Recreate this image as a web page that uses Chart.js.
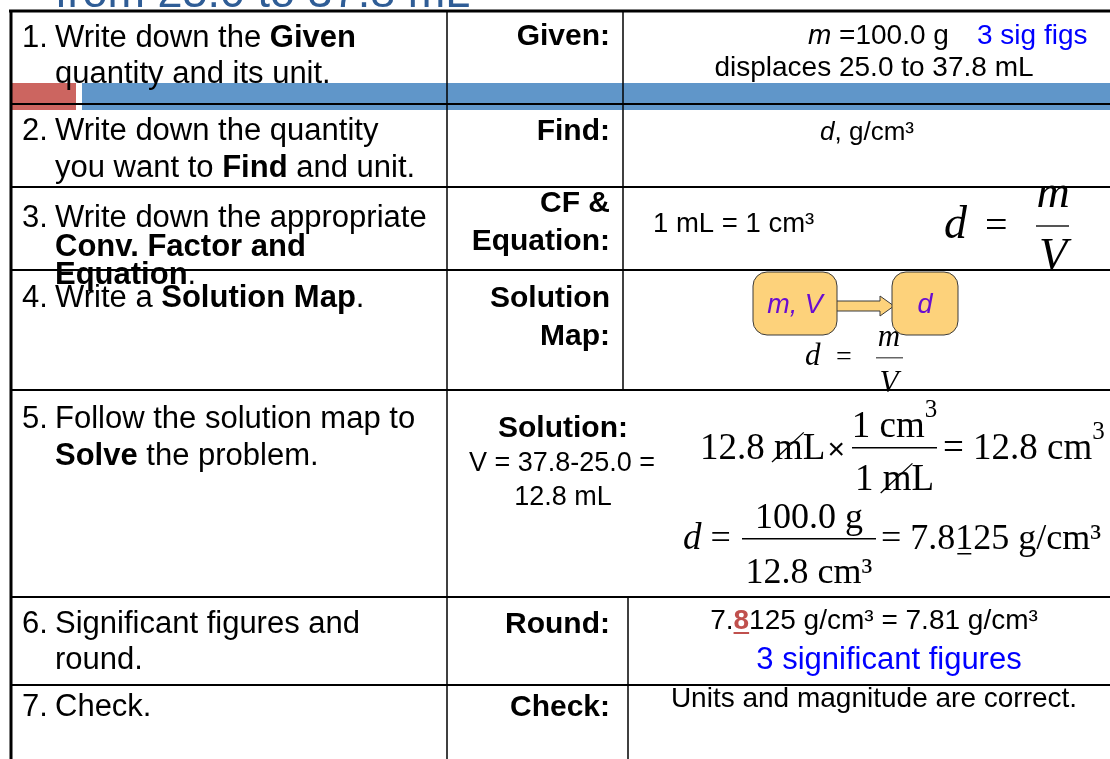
<!DOCTYPE html>
<html>
<head>
<meta charset="utf-8">
<script src="https://cdn.jsdelivr.net/npm/chart.js@4/dist/chart.umd.min.js"></script>
<style>
  html, body { margin: 0; padding: 0; background: #fff; }
  #wrap { width: 1110px; height: 759px; }
</style>
</head>
<body>
<div id="wrap"><canvas id="slide" width="1110" height="759"></canvas></div>
<script>
// content of the slide
const title = 'from 25.0 to 37.8 mL';
const steps = [
  ['1. Write down the **Given**', 'quantity and its unit.'],
  ['2. Write down the quantity', 'you want to **Find** and unit.'],
  ['3. Write down the appropriate', '**Conv. Factor and**', '**Equation**.'],
  ['4. Write a **Solution Map**.'],
  ['5. Follow the solution map to', '**Solve** the problem.'],
  ['6. Significant figures and', 'round.'],
  ['7. Check.'],
];
const fieldLabels = [
  ['Given:'], ['Find:'], ['CF &', 'Equation:'], ['Solution', 'Map:'],
  ['Solution:'], ['Round:'], ['Check:'],
];
// measured quantities
const massG = [100.0];
const volumeML = [25.0, 37.8];
const volumeDiff = [12.8];
const density = [7.8125, 7.81];
const sigFigs = [3];
const mapNodes = ['m, V', 'd'];
const checkText = 'Units and magnitude are correct.';

const SANS = '"Liberation Sans", Arial, sans-serif';
const SERIF = '"Liberation Serif", "Times New Roman", serif';

// layout of the table (pixel units of the hidden scales)
const rowLines = [104, 187, 270, 390, 597, 685];
const stepBaselines = [[47, 83], [140, 177], [227, 256, 284], [307], [428, 465], [633, 669], [716]];
const labelBaselines = [[45], [140], [212, 250], [307, 345], [437], [633], [716]];

function parseRuns(s) {
  return s.split(/(\*\*.+?\*\*|_.+?_)/).filter(Boolean).map(t => {
    if (t.startsWith('**')) return { t: t.slice(2, -2), b: true };
    if (t.startsWith('_') && t.length > 2) return { t: t.slice(1, -1), i: true };
    return { t };
  });
}

function fontOf(o, r) {
  const b = (o.bold || (r && r.b)) ? 'bold ' : '';
  const i = (o.italic || (r && r.i)) ? 'italic ' : '';
  return i + b + o.size + 'px ' + (o.family || SANS);
}

function drawRich(ctx, s, x, y, o) {
  const runs = parseRuns(s);
  let total = 0;
  runs.forEach(r => { ctx.font = fontOf(o, r); r.w = ctx.measureText(r.t).width; total += r.w; });
  let cx = x;
  if (o.align === 'center') cx = x - total / 2;
  if (o.align === 'right') cx = x - total;
  ctx.textAlign = 'left';
  ctx.textBaseline = 'alphabetic';
  runs.forEach(r => {
    ctx.font = fontOf(o, r);
    ctx.fillStyle = (r.b && o.boldColor) || o.color || '#000';
    ctx.fillText(r.t, cx, y);
    if (r.b && o.boldUnderline) {
      ctx.fillRect(cx, y + 3, r.w, 2);
    }
    cx += r.w;
  });
  return cx;
}

// draw a row of pieces one after another (for the typeset formulas)
function drawSeq(ctx, x, y, parts) {
  let cx = x;
  parts.forEach(p => {
    const fam = p.family || SERIF;
    ctx.font = (p.italic ? 'italic ' : '') + p.size + 'px ' + fam;
    ctx.fillStyle = '#000';
    ctx.textAlign = 'left';
    ctx.textBaseline = 'alphabetic';
    const w = ctx.measureText(p.t).width;
    cx += p.gap || 0;
    ctx.fillText(p.t, cx, y + (p.dy || 0));
    if (p.strike) {
      const mw = ctx.measureText('m').width;
      ctx.strokeStyle = '#000';
      ctx.lineWidth = 1.3;
      ctx.beginPath();
      ctx.moveTo(cx - 2, y + 3);
      ctx.lineTo(cx + mw + 1, y - p.size * 0.72);
      ctx.stroke();
    }
    if (p.under) {
      const uw = ctx.measureText(p.under[0]).width;
      const ux = cx + ctx.measureText(p.t.slice(0, p.under[1])).width;
      ctx.fillRect(ux + 2, y + 4, uw - 4, 1.5);
    }
    cx += w;
  });
  return cx;
}

function seqWidth(ctx, parts) {
  return parts.reduce((a, p) => {
    ctx.font = (p.italic ? 'italic ' : '') + p.size + 'px ' + (p.family || SERIF);
    return a + ctx.measureText(p.t).width + (p.gap || 0);
  }, 0);
}

function roundRect(ctx, x, y, w, h, r) {
  ctx.beginPath();
  ctx.moveTo(x + r, y);
  ctx.arcTo(x + w, y, x + w, y + h, r);
  ctx.arcTo(x + w, y + h, x, y + h, r);
  ctx.arcTo(x, y + h, x, y, r);
  ctx.arcTo(x, y, x + w, y, r);
  ctx.closePath();
}

const slidePlugin = {
  id: 'slideTable',
  afterDraw(chart) {
    const ctx = chart.ctx;
    const xs = chart.scales.x, ys = chart.scales.y;
    const X = v => xs.getPixelForValue(v);
    const Y = v => ys.getPixelForValue(v);
    ctx.save();

    // title, mostly hidden above the table
    ctx.font = '45px ' + SANS;
    ctx.fillStyle = '#2F5D96';
    ctx.textAlign = 'left';
    ctx.fillText(title, X(55), Y(7));

    // decorative header bar
    ctx.fillStyle = '#CC6560';
    ctx.fillRect(X(10), Y(83), X(76) - X(10), Y(110) - Y(83));
    ctx.fillStyle = '#6096C9';
    ctx.fillRect(X(82), Y(83), X(1110) - X(82), Y(110) - Y(83));

    // left column: steps
    steps.forEach((lines, i) => {
      lines.forEach((ln, j) => {
        const y = Y(stepBaselines[i][j]);
        const m = ln.match(/^(\d+\.)\s(.*)$/);
        if (m) {
          drawRich(ctx, m[1], X(22), y, { size: 31 });
          drawRich(ctx, m[2], X(55), y, { size: 31 });
        } else {
          drawRich(ctx, ln, X(55), y, { size: 31 });
        }
      });
    });

    // middle column: field labels
    fieldLabels.forEach((lines, i) => {
      lines.forEach((ln, j) => {
        const y = Y(labelBaselines[i][j]);
        if (i === 4) drawRich(ctx, ln, X(563), y, { size: 30, bold: true, align: 'center' });
        else drawRich(ctx, ln, X(610), y, { size: 30, bold: true, align: 'right' });
      });
    });

    // Given
    drawRich(ctx, '_m_ =' + massG[0].toFixed(1) + ' g', X(808), Y(44), { size: 28 });
    drawRich(ctx, sigFigs[0] + ' sig figs', X(977), Y(44), { size: 28, color: '#0000FF' });
    drawRich(ctx, 'displaces ' + volumeML[0].toFixed(1) + ' to ' + volumeML[1].toFixed(1) + ' mL',
      X(874), Y(76), { size: 28, align: 'center' });

    // Find
    drawRich(ctx, '_d_, g/cm\u00B3', X(867), Y(140), { size: 26, align: 'center' });

    // conversion factor and equation
    drawRich(ctx, '1 mL = 1 cm\u00B3', X(653), Y(232), { size: 27.5 });
    ctx.font = 'italic 46px ' + SERIF;
    ctx.fillStyle = '#000';
    ctx.fillText('d', X(944), Y(238));
    ctx.font = '40px ' + SERIF;
    ctx.fillText('=', X(985), Y(238));
    ctx.font = 'italic 46px ' + SERIF;
    ctx.textAlign = 'center';
    ctx.fillText('m', X(1053), Y(207));
    ctx.fillText('V', X(1053), Y(270));
    ctx.textAlign = 'left';
    ctx.fillStyle = '#555';
    ctx.fillRect(X(1036), Y(225), X(1069) - X(1036), 2);

    // solution map
    ctx.fillStyle = '#000';
    ctx.font = 'italic 31px ' + SERIF;
    ctx.fillText('d', X(805), Y(365));
    ctx.font = '28px ' + SERIF;
    ctx.fillText('=', X(836), Y(365));
    ctx.font = 'italic 31px ' + SERIF;
    ctx.textAlign = 'center';
    ctx.fillText('m', X(889), Y(346));
    ctx.fillText('V', X(889), Y(392));
    ctx.textAlign = 'left';
    ctx.fillStyle = '#666';
    ctx.fillRect(X(876), Y(357), X(903) - X(876), 1.5);

    // arrow between the two nodes
    ctx.beginPath();
    ctx.moveTo(X(836), Y(301));
    ctx.lineTo(X(880), Y(301));
    ctx.lineTo(X(880), Y(296));
    ctx.lineTo(X(894), Y(306));
    ctx.lineTo(X(880), Y(316));
    ctx.lineTo(X(880), Y(311));
    ctx.lineTo(X(836), Y(311));
    ctx.closePath();
    ctx.fillStyle = '#FDD27B';
    ctx.fill();
    ctx.strokeStyle = '#3a3a3a';
    ctx.lineWidth = 1;
    ctx.stroke();

    [[753, 837], [892, 958]].forEach((b, k) => {
      roundRect(ctx, X(b[0]), Y(272), X(b[1]) - X(b[0]), Y(335) - Y(272), 14);
      ctx.fillStyle = '#FDD27B';
      ctx.fill();
      ctx.strokeStyle = '#3a3a3a';
      ctx.stroke();
      drawRich(ctx, '_' + mapNodes[k] + '_', X((b[0] + b[1]) / 2), Y(313),
        { size: 27, align: 'center', color: '#6A0DD0' });
    });

    // solution: volume
    drawRich(ctx, 'V = ' + volumeML[1].toFixed(1) + '-' + volumeML[0].toFixed(1) + ' =',
      X(562), Y(471), { size: 27, align: 'center' });
    drawRich(ctx, volumeDiff[0].toFixed(1) + ' mL', X(563), Y(505), { size: 27, align: 'center' });

    // 12.8 mL x 1 cm3 / 1 mL = 12.8 cm3
    const v = volumeDiff[0].toFixed(1);
    drawSeq(ctx, X(700), Y(459), [
      { t: v + ' ', size: 37 },
      { t: 'mL', size: 37, strike: true },
      { t: '\u00D7', size: 30, family: SANS, gap: 2 },
    ]);
    const num1 = [{ t: '1 cm', size: 37 }, { t: '3', size: 25, dy: -20 }];
    const den1 = [{ t: '1 ', size: 37 }, { t: 'mL', size: 37, strike: true }];
    const fx0 = X(852), fx1 = X(937), fmid = (fx0 + fx1) / 2;
    drawSeq(ctx, fmid - seqWidth(ctx, num1) / 2, Y(437), num1);
    drawSeq(ctx, fmid - seqWidth(ctx, den1) / 2, Y(490), den1);
    ctx.fillStyle = '#000';
    ctx.fillRect(fx0, Y(447), fx1 - fx0, 1.5);
    drawSeq(ctx, X(943), Y(459), [
      { t: '= ' + v + ' cm', size: 37 },
      { t: '3', size: 25, dy: -20 },
    ]);

    // d = 100.0 g / 12.8 cm3 = 7.8125 g/cm3
    drawSeq(ctx, X(683), Y(549), [
      { t: 'd', size: 37, italic: true },
      { t: ' =', size: 36 },
    ]);
    const num2 = [{ t: massG[0].toFixed(1) + ' g', size: 36 }];
    const den2 = [{ t: v + ' cm\u00B3', size: 36 }];
    const gx0 = X(742), gx1 = X(876), gmid = (gx0 + gx1) / 2;
    drawSeq(ctx, gmid - seqWidth(ctx, num2) / 2, Y(528), num2);
    drawSeq(ctx, gmid - seqWidth(ctx, den2) / 2, Y(583), den2);
    ctx.fillStyle = '#000';
    ctx.fillRect(gx0, Y(538), gx1 - gx0, 1.5);
    drawSeq(ctx, X(881), Y(549), [
      { t: '= ' + density[0] + ' g/cm\u00B3', size: 36, under: ['1', 5] },
    ]);

    // Round
    const ds = String(density[0]);
    drawRich(ctx, ds.slice(0, 2) + '**' + ds[2] + '**' + ds.slice(3) + ' g/cm\u00B3 = ' +
      density[1].toFixed(2) + ' g/cm\u00B3', X(874), Y(629),
      { size: 28, align: 'center', boldColor: '#C0504D', boldUnderline: true });
    drawRich(ctx, sigFigs[0] + ' significant figures', X(889), Y(669),
      { size: 31, align: 'center', color: '#0000FF' });

    // Check
    drawRich(ctx, checkText, X(874), Y(707), { size: 28, align: 'center' });

    // table grid
    ctx.strokeStyle = '#000';
    const line = (x0, y0, x1, y1, w) => {
      ctx.lineWidth = w;
      ctx.beginPath();
      ctx.moveTo(X(x0), Y(y0));
      ctx.lineTo(X(x1), Y(y1));
      ctx.stroke();
    };
    rowLines.forEach(y => line(10, y, 1110, y, 2));
    line(447, 11, 447, 759, 1.5);
    line(623, 11, 623, 390, 1.5);
    line(628, 597, 628, 759, 1.5);
    line(9, 11, 1110, 11, 3);
    line(11, 10, 11, 759, 3);

    ctx.restore();
  },
};

new Chart(document.getElementById('slide').getContext('2d'), {
  type: 'scatter',
  data: { datasets: [{ data: [], pointRadius: 0 }] },
  options: {
    responsive: false,
    animation: false,
    events: [],
    layout: { padding: 0 },
    scales: {
      x: { type: 'linear', min: 0, max: 1110, display: false },
      y: { type: 'linear', min: 0, max: 759, reverse: true, display: false },
    },
    plugins: { legend: { display: false }, tooltip: { enabled: false } },
  },
  plugins: [slidePlugin],
});
</script>
</body>
</html>
